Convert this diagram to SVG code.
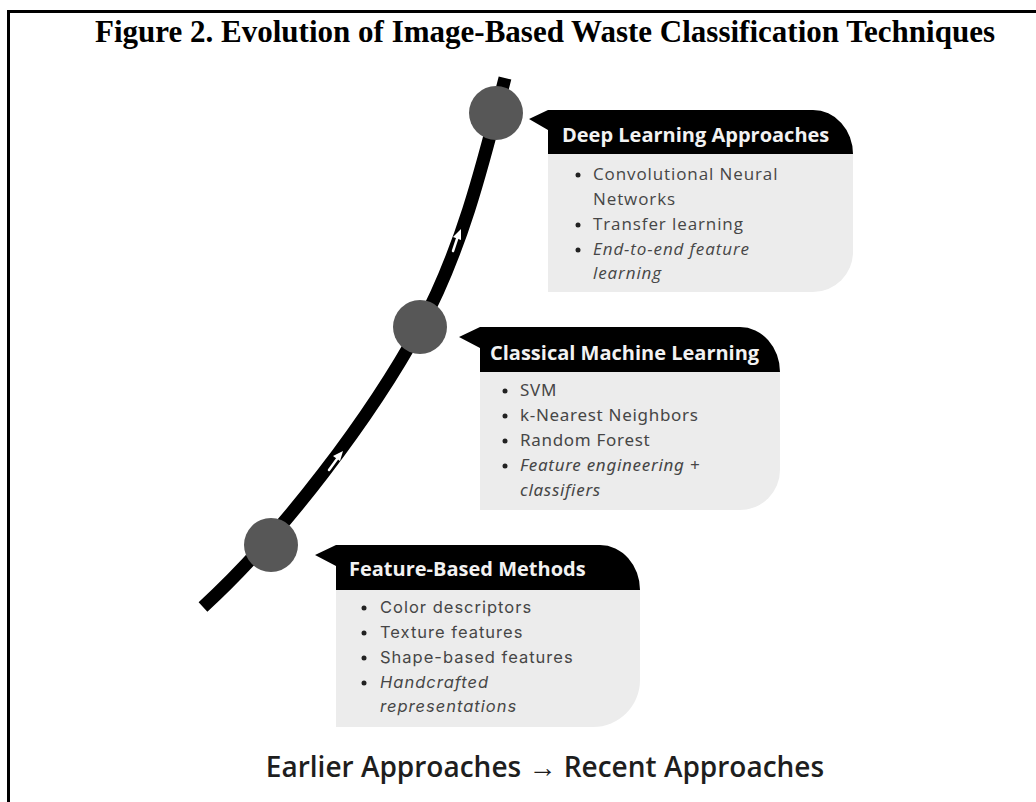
<svg xmlns="http://www.w3.org/2000/svg" width="1036" height="802" viewBox="0 0 1036 802">
  <style>
    .frame { fill: none; stroke: #000; stroke-width: 3; }
    .title { font-family: "Liberation Serif", serif; font-weight: bold; font-size: 32px; fill: #000; }
    .track { fill: none; stroke: #000; stroke-width: 13; stroke-linecap: butt; }
    .dot { fill: #575757; }
    .tick { fill: none; stroke: #fff; stroke-width: 2.5; stroke-linecap: round; }
    .tickhead { fill: #fff; }
    .head { fill: #000; }
    .body { fill: #ececec; }
    .htxt { font-family: "Open Sans", sans-serif; font-weight: 700; font-size: 20px; fill: #f2f2f2; }
    .item { font-family: "Open Sans", sans-serif; font-size: 17px; letter-spacing: 0.9px; fill: #464646; }
    .item2 { font-family: "Noto Sans", sans-serif; font-size: 17px; letter-spacing: 0.7px; fill: #464646; }
    .item3 { font-family: "Inter", sans-serif; font-size: 16.5px; letter-spacing: 1px; fill: #464646; }
    .it { font-style: italic; }
    .bul { fill: #222; }
    .cap { font-family: "Open Sans", sans-serif; font-weight: 600; font-size: 28px; fill: #1e1e1e; }
  </style>

  <!-- page frame: left and top rules -->
  <path class="frame" d="M8.5,802 L8.5,11.5 L1036,11.5"/>

  <text class="title" x="95" y="42" textLength="900" lengthAdjust="spacingAndGlyphs">Figure 2. Evolution of Image-Based Waste Classification Techniques</text>

  <!-- timeline track with direction ticks -->
  <g id="connectors">
    <path class="track" d="M203,607 C284,533 372,415 420,327 C463,248 485,156 505,78"/>
    <path class="tick" d="M329,470 L337,459"/>
    <path class="tickhead" d="M343,451 L333,456 L340,461 Z"/>
    <path class="tick" d="M453,251 L457,239"/>
    <path class="tickhead" d="M461,229 L453,237 L461,240 Z"/>
  </g>

  <!-- milestone 3: deep learning -->
  <g id="deep-learning">
    <circle class="dot" cx="496" cy="113" r="27"/>
    <path class="head" d="M529,119 L548,110 L813,110 A40,44 0 0 1 853,154 L548,154 L548,130 Z"/>
    <path class="body" d="M548,154 L853,154 L853,252 A40,40 0 0 1 813,292 L548,292 Z"/>
    <text class="htxt" x="562" y="142">Deep Learning Approaches</text>
    <g class="bul"><circle cx="578" cy="175" r="2.5"/><circle cx="578" cy="225" r="2.5"/><circle cx="578" cy="250" r="2.5"/></g>
    <text class="item" x="593" y="180">Convolutional Neural</text>
    <text class="item" x="593" y="205">Networks</text>
    <text class="item" x="593" y="230">Transfer learning</text>
    <text class="item it" x="593" y="255">End-to-end feature</text>
    <text class="item it" x="593" y="279">learning</text>
  </g>

  <!-- milestone 2: classical machine learning -->
  <g id="classical-ml">
    <circle class="dot" cx="420" cy="327" r="27"/>
    <path class="head" d="M459,337 L480,327 L740,327 A40,45 0 0 1 780,372 L480,372 L480,348 Z"/>
    <path class="body" d="M480,372 L780,372 L780,470 A40,40 0 0 1 740,510 L480,510 Z"/>
    <text class="htxt" x="490" y="360">Classical Machine Learning</text>
    <g class="bul"><circle cx="505" cy="391" r="2.5"/><circle cx="505" cy="416" r="2.5"/><circle cx="505" cy="441" r="2.5"/><circle cx="505" cy="466" r="2.5"/></g>
    <text class="item2" x="520" y="396">SVM</text>
    <text class="item2" x="520" y="421">k-Nearest Neighbors</text>
    <text class="item2" x="520" y="446">Random Forest</text>
    <text class="item2 it" x="520" y="471">Feature engineering +</text>
    <text class="item2 it" x="520" y="496">classifiers</text>
  </g>

  <!-- milestone 1: feature-based methods -->
  <g id="feature-based">
    <circle class="dot" cx="271" cy="545" r="27"/>
    <path class="head" d="M315,555 L336,545 L600,545 A40,45 0 0 1 640,590 L336,590 L336,566 Z"/>
    <path class="body" d="M336,590 L640,590 L640,680 A47,47 0 0 1 593,727 L336,727 Z"/>
    <text class="htxt" x="349" y="576">Feature-Based Methods</text>
    <g class="bul"><circle cx="364" cy="608" r="2.5"/><circle cx="364" cy="633" r="2.5"/><circle cx="364" cy="658" r="2.5"/><circle cx="364" cy="683" r="2.5"/></g>
    <text class="item3" x="380" y="613">Color descriptors</text>
    <text class="item3" x="380" y="638">Texture features</text>
    <text class="item3" x="380" y="663">Shape-based features</text>
    <text class="item3 it" x="380" y="688">Handcrafted</text>
    <text class="item3 it" x="380" y="712">representations</text>
  </g>

  <text class="cap" x="545" y="777" text-anchor="middle">Earlier Approaches → Recent Approaches</text>
</svg>
